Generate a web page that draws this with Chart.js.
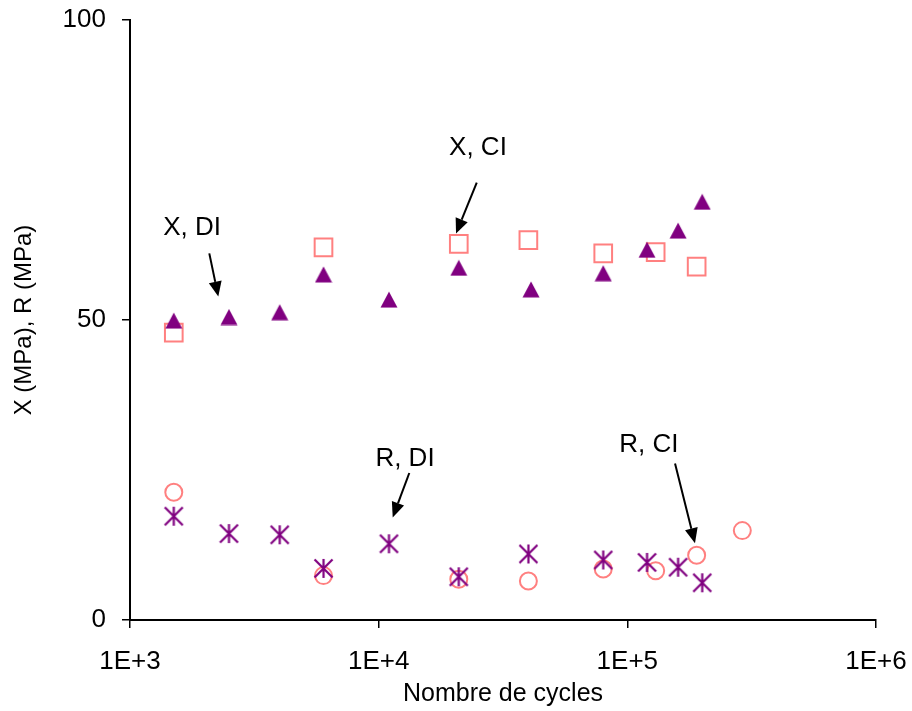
<!DOCTYPE html>
<html>
<head>
<meta charset="utf-8">
<script src="https://cdn.jsdelivr.net/npm/chart.js@4.4.1/dist/chart.umd.min.js"></script>
<style>
  html, body { margin: 0; padding: 0; background: #fff; }
  #wrap { width: 912px; height: 711px; }
</style>
</head>
<body>
<div id="wrap"><canvas id="c" width="912" height="711"></canvas></div>
<script>
// ---- data ----
const xTickValues = [1000, 10000, 100000, 1000000];
const xTickLabels = ['1E+3', '1E+4', '1E+5', '1E+6'];
const yTickValues = [0, 50, 100];

const xDI_cycles = [1500, 2500, 4000, 6000, 11000, 21000, 41000, 80000, 120000, 160000, 200000];
const xDI_values = [49.9, 50.5, 51.3, 57.6, 53.4, 58.7, 55.1, 57.8, 61.7, 64.9, 69.7];

const xCI_cycles = [1500, 6000, 21000, 40000, 80000, 130000, 190000];
const xCI_values = [47.9, 62.1, 62.7, 63.3, 61.1, 61.3, 58.9];

const rDI_cycles = [1500, 2500, 4000, 6000, 11000, 21000, 40000, 80000, 120000, 160000, 200000];
const rDI_values = [17.3, 14.4, 14.2, 8.6, 12.7, 7.2, 11.0, 10.0, 9.6, 8.8, 6.2];

const rCI_cycles = [1500, 6000, 21000, 40000, 80000, 130000, 190000, 290000];
const rCI_values = [21.3, 7.4, 6.8, 6.5, 8.5, 8.2, 10.8, 14.9];

// annotation labels: text, text anchor (data), arrow start (data), arrow tip (data)
const annotations = [
  { text: 'X, DI', at: [1776, 65.3], from: [2084, 61.1], to: [2265, 53.9] },
  { text: 'X, CI', at: [25080, 78.7], from: [24800, 72.9], to: [20470, 64.4] },
  { text: 'R, DI', at: [12760, 26.8], from: [13280, 24.5], to: [11390, 17.1] },
  { text: 'R, CI', at: [122000, 29.2], from: [155500, 26.1], to: [187100, 12.8] }
];

const PURPLE = '#800080';
const PINK = '#FF8080';
const FONT = '"Liberation Sans", Arial, sans-serif';

function toXY(xs, ys) { return xs.map((x, i) => ({ x: x, y: ys[i] })); }

// custom marker images
function makeTriangle() {
  const c = document.createElement('canvas');
  c.width = 18; c.height = 17;
  const g = c.getContext('2d');
  g.fillStyle = PURPLE;
  g.beginPath();
  g.moveTo(9, 0.5); g.lineTo(17.5, 16.5); g.lineTo(0.5, 16.5); g.closePath();
  g.fill();
  return c;
}
function makeAsterisk() {
  const c = document.createElement('canvas');
  c.width = 21; c.height = 21;
  const g = c.getContext('2d');
  g.strokeStyle = PURPLE;
  g.lineWidth = 2.2;
  g.beginPath();
  g.moveTo(10.5, 1); g.lineTo(10.5, 20);
  g.moveTo(1.5, 1.5); g.lineTo(19.5, 19.5);
  g.moveTo(19.5, 1.5); g.lineTo(1.5, 19.5);
  g.stroke();
  return c;
}

const annotationPlugin = {
  id: 'arrowLabels',
  afterDatasetsDraw(chart) {
    const ctx = chart.ctx;
    const xs = chart.scales.x, ys = chart.scales.y;
    ctx.save();
    ctx.fillStyle = '#000';
    ctx.strokeStyle = '#000';
    ctx.font = '26px ' + FONT;
    ctx.textAlign = 'center';
    ctx.textBaseline = 'middle';
    annotations.forEach(a => {
      const tx = xs.getPixelForValue(a.at[0]), ty = ys.getPixelForValue(a.at[1]);
      ctx.fillText(a.text, tx, ty);
      const x1 = xs.getPixelForValue(a.from[0]), y1 = ys.getPixelForValue(a.from[1]);
      const x2 = xs.getPixelForValue(a.to[0]), y2 = ys.getPixelForValue(a.to[1]);
      const ang = Math.atan2(y2 - y1, x2 - x1);
      const headLen = 15, headW = 6.5;
      const bx = x2 - headLen * Math.cos(ang), by = y2 - headLen * Math.sin(ang);
      ctx.lineWidth = 2;
      ctx.beginPath();
      ctx.moveTo(x1, y1); ctx.lineTo(bx, by);
      ctx.stroke();
      ctx.beginPath();
      ctx.moveTo(x2, y2);
      ctx.lineTo(bx + headW * Math.sin(ang), by - headW * Math.cos(ang));
      ctx.lineTo(bx - headW * Math.sin(ang), by + headW * Math.cos(ang));
      ctx.closePath();
      ctx.fill();
    });
    ctx.restore();
  }
};

const triImg = makeTriangle();
const astImg = makeAsterisk();

new Chart(document.getElementById('c'), {
  type: 'scatter',
  data: {
    datasets: [
      { label: 'X, DI', data: toXY(xDI_cycles, xDI_values), pointStyle: triImg, order: 1 },
      { label: 'R, DI', data: toXY(rDI_cycles, rDI_values), pointStyle: astImg, order: 2 },
      { label: 'X, CI', data: toXY(xCI_cycles, xCI_values), pointStyle: 'rect', pointRadius: 12.5,
        borderColor: PINK, backgroundColor: 'rgba(0,0,0,0)', borderWidth: 2, order: 3 },
      { label: 'R, CI', data: toXY(rCI_cycles, rCI_values), pointStyle: 'circle', pointRadius: 8.5,
        borderColor: PINK, backgroundColor: 'rgba(0,0,0,0)', borderWidth: 2, order: 4 }
    ]
  },
  options: {
    responsive: false,
    animation: false,
    events: [],
    layout: { padding: { left: 0, right: 36, top: 20, bottom: 0 } },
    plugins: { legend: { display: false }, tooltip: { enabled: false } },
    scales: {
      x: {
        type: 'logarithmic',
        min: 1000, max: 1000000,
        afterBuildTicks: s => { s.ticks = xTickValues.map(v => ({ value: v })); },
        afterFit: s => { s.height = 91; s.paddingLeft = 0; s.paddingRight = 0; },
        ticks: {
          autoSkip: false, maxRotation: 0, padding: 18,
          color: '#000', font: { family: FONT, size: 26 },
          callback: (v) => xTickLabels[xTickValues.indexOf(v)]
        },
        grid: { drawOnChartArea: false, drawTicks: true, tickLength: 8, color: '#000', lineWidth: 1.5 },
        border: { display: true, color: '#000', width: 2 },
        title: { display: true, text: 'Nombre de cycles', color: '#000',
                 font: { family: FONT, size: 25 }, padding: { top: 0, bottom: 2 } }
      },
      y: {
        min: 0, max: 100,
        afterBuildTicks: s => { s.ticks = yTickValues.map(v => ({ value: v })); },
        afterFit: s => { s.width = 130; s.paddingTop = 0; s.paddingBottom = 0; },
        ticks: { padding: 16, color: '#000', font: { family: FONT, size: 26 } },
        grid: { drawOnChartArea: false, drawTicks: true, tickLength: 8, color: '#000', lineWidth: 1.5 },
        border: { display: true, color: '#000', width: 2 },
        title: { display: true, text: 'X (MPa), R (MPa)', color: '#000',
                 font: { family: FONT, size: 24 }, padding: { top: 10, bottom: 0 } }
      }
    }
  },
  plugins: [annotationPlugin]
});
</script>
</body>
</html>
